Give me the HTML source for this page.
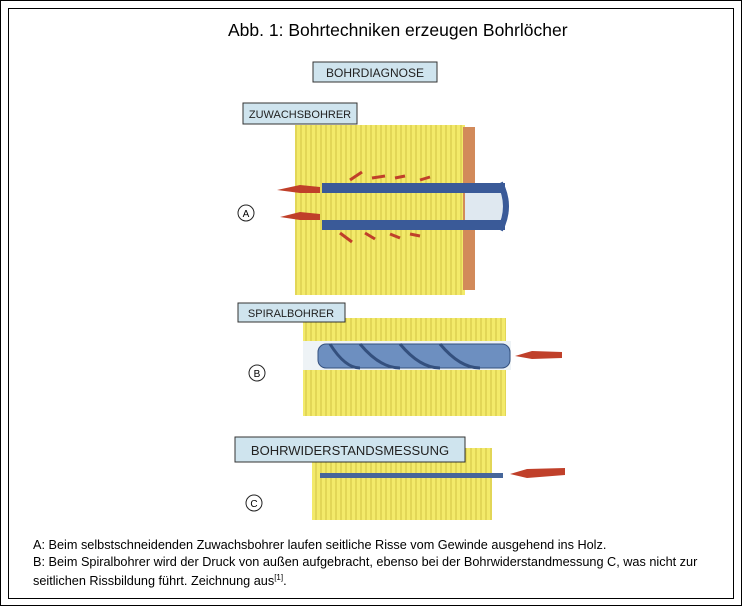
<!DOCTYPE html>
<html><head><meta charset="utf-8"><style>
body{margin:0;background:#fff;width:742px;height:606px;overflow:hidden;font-family:"Liberation Sans",sans-serif}
.o{position:absolute;left:0;top:0;width:740px;height:604px;border:1px solid #000}
.i{position:absolute;left:8px;top:8px;width:724px;height:589px;border:1px solid #000}
.t{position:absolute;left:228px;width:350px;top:20px;font-size:17.5px;white-space:nowrap}
.c{position:absolute;left:33px;top:537px;font-size:12.7px;line-height:16.5px;color:#000;width:690px}
svg{position:absolute;left:0;top:0}
</style></head><body>
<div class="o"></div><div class="i"></div>
<div class="t">Abb. 1: Bohrtechniken erzeugen Bohrlöcher</div>
<svg width="742" height="606" font-family="Liberation Sans, sans-serif">
<defs><pattern id="g" width="5" height="10" patternUnits="userSpaceOnUse"><rect width="5" height="10" fill="#f3ea6a"/><line x1="1" y1="0" x2="1" y2="10" stroke="#c9b93a" stroke-width="0.8"/></pattern></defs>
<rect x="313" y="62" width="124" height="20" fill="#cfe4ee" stroke="#333"/>
<text x="375" y="77" font-size="12" text-anchor="middle" fill="#222">BOHRDIAGNOSE</text>
<rect x="243" y="103" width="114" height="21" fill="#cfe4ee" stroke="#333"/>
<text x="300" y="118" font-size="11" text-anchor="middle" fill="#222">ZUWACHSBOHRER</text>
<rect x="295" y="125" width="170" height="170" fill="url(#g)"/>
<rect x="463" y="127" width="12" height="163" fill="#d28a5a"/>
<rect x="465" y="193" width="38" height="27" fill="#dfe8f0"/>
<rect x="322" y="183" width="183" height="10" fill="#3a5a98"/>
<rect x="322" y="220" width="183" height="10" fill="#3a5a98"/>
<path d="M500 183 Q512 206 500 230" stroke="#3a5a98" stroke-width="6" fill="none"/>
<g fill="#c0402a"><path d="M277 190 L300 185 L320 187 L320 193 L300 193 Z"/><path d="M280 217 L300 212 L320 214 L320 220 L300 220 Z"/></g>
<g stroke="#c0402a" stroke-width="3"><line x1="350" y1="180" x2="362" y2="172"/><line x1="372" y1="178" x2="385" y2="176"/><line x1="395" y1="178" x2="405" y2="176"/><line x1="420" y1="180" x2="430" y2="177"/><line x1="340" y1="233" x2="352" y2="242"/><line x1="365" y1="233" x2="375" y2="239"/><line x1="390" y1="234" x2="400" y2="238"/><line x1="410" y1="234" x2="420" y2="236"/></g>
<circle cx="246" cy="213" r="8" fill="none" stroke="#222"/><text x="246" y="217" font-size="10" text-anchor="middle">A</text>
<rect x="303" y="318" width="203" height="98" fill="url(#g)"/>
<rect x="238" y="303" width="107" height="19" fill="#cfe4ee" stroke="#333"/>
<text x="291" y="317" font-size="11" text-anchor="middle" fill="#222">SPIRALBOHRER</text>
<rect x="303" y="341" width="208" height="29" fill="#eef3f6"/>
<rect x="318" y="344" width="192" height="24" rx="8" fill="#6d8fc0" stroke="#34507e"/>
<path d="M330 344 Q345 368 360 368 M360 344 Q380 368 400 368 M400 344 Q420 368 440 368 M440 344 Q460 368 480 368" stroke="#34507e" stroke-width="3" fill="none"/>
<path d="M515 356 L532 351 L562 352 L562 358 L532 359 Z" fill="#c0402a"/>
<circle cx="257" cy="373" r="8" fill="none" stroke="#222"/><text x="257" y="377" font-size="10" text-anchor="middle">B</text>
<rect x="312" y="448" width="180" height="72" fill="url(#g)"/>
<rect x="235" y="437" width="230" height="25" fill="#cfe4ee" stroke="#333"/>
<text x="350" y="455" font-size="13" text-anchor="middle" fill="#222">BOHRWIDERSTANDSMESSUNG</text>
<rect x="320" y="473" width="183" height="5" fill="#46669a"/>
<path d="M510 474 L527 469 L565 468 L565 475 L527 478 Z" fill="#c0402a"/>
<circle cx="254" cy="503" r="8" fill="none" stroke="#222"/><text x="254" y="507" font-size="10" text-anchor="middle">C</text>
</svg>
<div class="c">A: Beim selbstschneidenden Zuwachsbohrer laufen seitliche Risse vom Gewinde ausgehend ins Holz.<br>B: Beim Spiralbohrer wird der Druck von außen aufgebracht, ebenso bei der Bohrwiderstandmessung C, was nicht zur seitlichen Rissbildung führt. Zeichnung aus<sup style="font-size:8px">[1]</sup>.</div>
</body></html>
